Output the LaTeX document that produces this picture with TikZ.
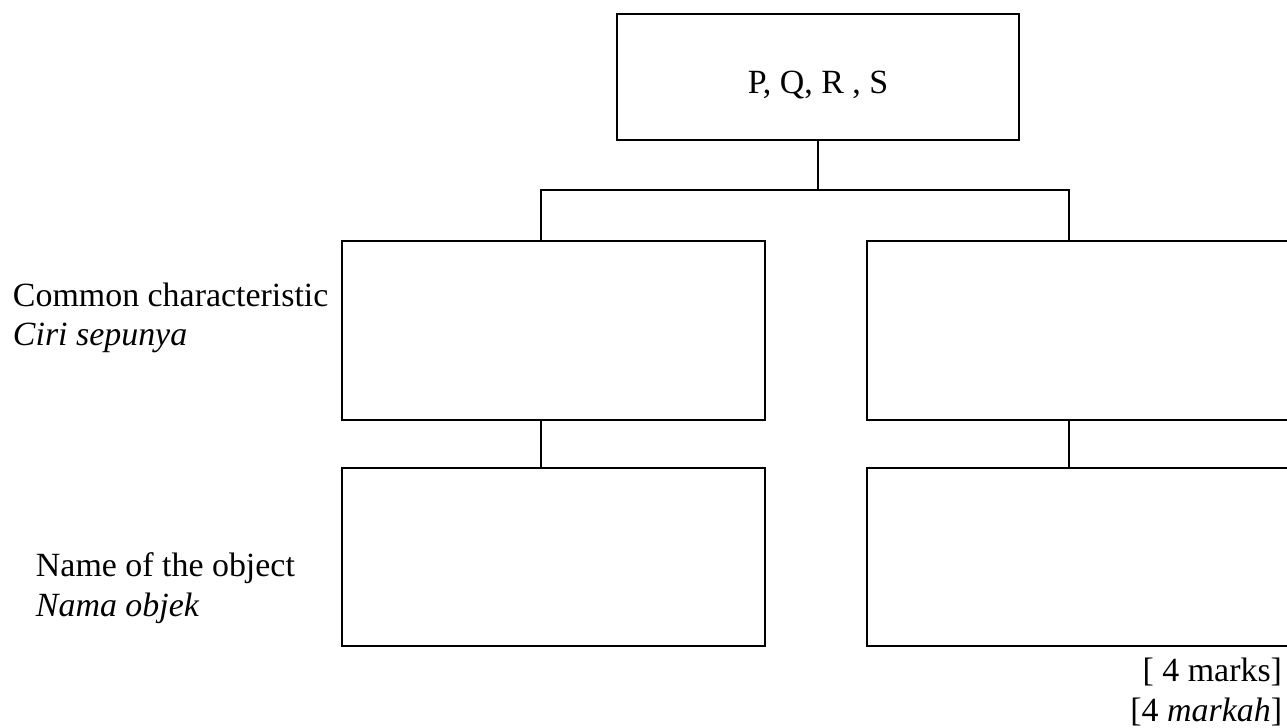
\documentclass[tikz,border=0pt]{standalone}
\usepackage{fontspec}
\setmainfont{Liberation Serif}

\begin{document}
\begin{tikzpicture}[x=0.02cm, y=-0.02cm, line width=1.1pt,
    font=\fontsize{19.3}{22.5}\selectfont,
    box/.style={draw, inner sep=0pt, outer sep=0pt},
    lbl/.style={inner sep=0pt, align=left, anchor=west}]
  \useasboundingbox (0,0) rectangle (1287,727);
  \clip (0,0) rectangle (1287,727);

  % top box with the four objects
  \node[box, minimum width=8.04cm, minimum height=2.52cm] (all) at (818,77) {};
  \node[inner sep=0pt] (alltext) at (818,85) {P, Q, R , S};

  % two columns of empty answer boxes
  \foreach \col/\xc/\boxw in {L/553.5/8.46cm, R/1083.5/8.66cm} {
    \node[box, minimum width=\boxw, minimum height=3.58cm] (char\col) at (\xc,330.5) {};
    \node[box, minimum width=\boxw, minimum height=3.56cm] (name\col) at (\xc,557) {};
  }

  % branching lines
  \coordinate (splitL) at (541,190);
  \coordinate (splitR) at (1069,190);
  \draw (all.south) -- (all.south |- splitL);
  \draw (splitL |- charL.north) -- (splitL) -- (splitR) -- (splitR |- charR.north);
  \draw (splitL |- charL.south) -- (splitL |- nameL.north);
  \draw (splitR |- charR.south) -- (splitR |- nameR.north);

  % row labels
  \node[lbl] (charlbl) at (12,318) {Common characteristic\\ \textit{Ciri sepunya}};
  \node[lbl] (namelbl) at (35,588) {Name of the object\\ \textit{Nama objek}};

  \node[inner sep=0pt, align=right, anchor=east] (marks) at (1283,692)
    {{[} 4 marks{]}\\ {[}4 \textit{markah}{]}};
\end{tikzpicture}
\end{document}
